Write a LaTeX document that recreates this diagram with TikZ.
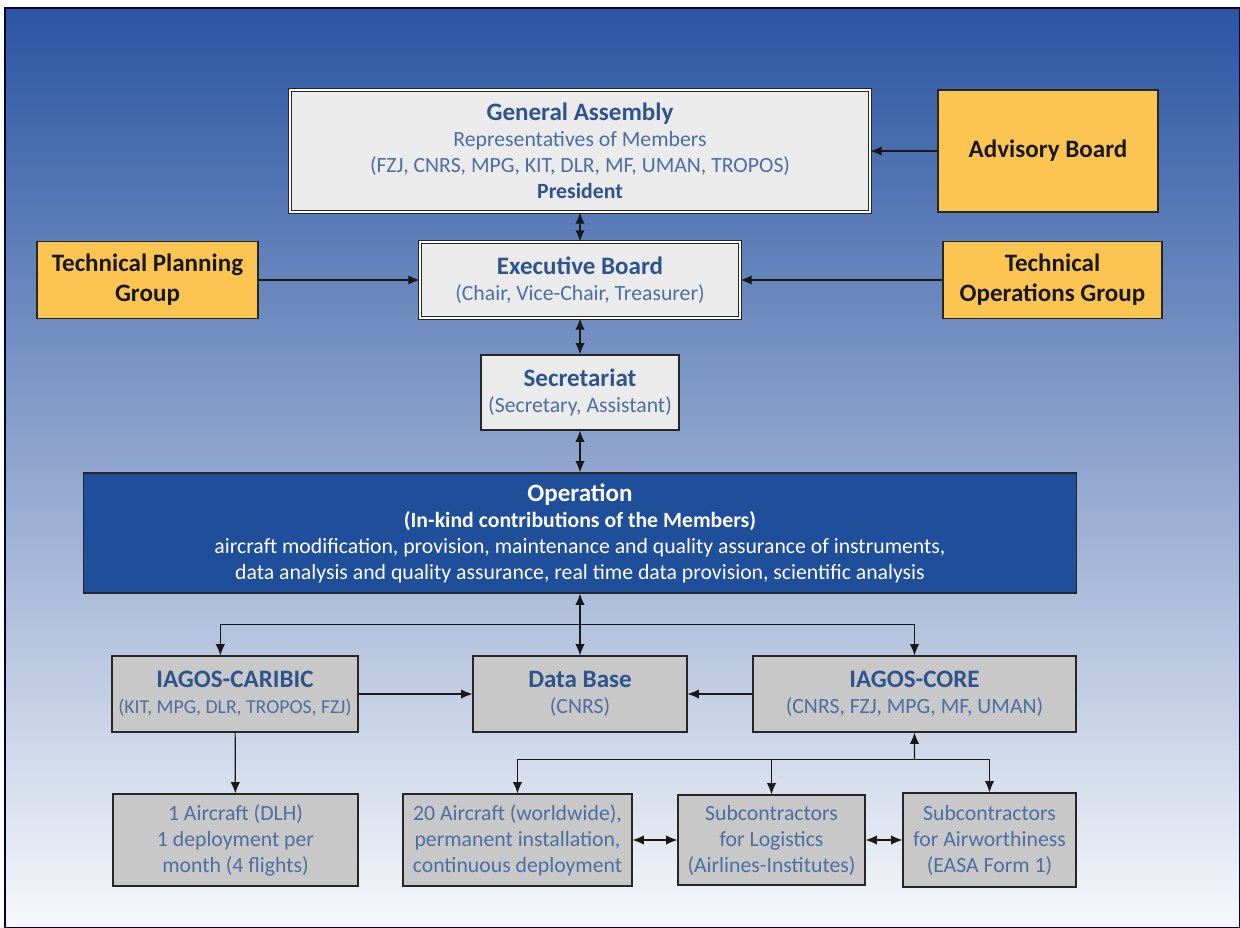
\documentclass[tikz,border=0pt]{standalone}
\usepackage{fontspec}
\setmainfont{Carlito}
\usetikzlibrary{arrows.meta,calc}

\definecolor{bgtop}{HTML}{2A55A2}
\definecolor{bgmid}{HTML}{8DA7D1}
\definecolor{bgbot}{HTML}{F7F8FB}
\definecolor{lightfill}{HTML}{EBEBEB}
\definecolor{orangefill}{HTML}{FCC552}
\definecolor{greyfill}{HTML}{C8C8C8}
\definecolor{opfill}{HTML}{1F4E9B}
\definecolor{titleblue}{HTML}{2E548F}
\definecolor{textblue}{HTML}{4B6EA3}

\newcommand{\pxu}{0.75pt}
\newcommand{\boxtitle}{\fontsize{18.8}{19.5}\selectfont\bfseries}
\newcommand{\boxtext}{\fontsize{16.3}{19.5}\selectfont}

\begin{document}
\begin{tikzpicture}[x=0.75pt,y=-0.75pt,
  >={Latex[length=8.5pt,width=7pt]},
  link/.style={line width=0.9pt,black!90},
  box/.style={draw=black!85,line width=0.8pt,align=center,inner sep=0pt,font=\boxtext},
  lightbox/.style={box,fill=lightfill,double=white,double distance=1.1pt,line width=0.6pt},
  orangebox/.style={box,fill=orangefill,text=black!90,font=\fontsize{18.8}{22.5}\selectfont\bfseries},
  greybox/.style={box,fill=greyfill,text=textblue},
  opbox/.style={box,fill=opfill,text=white}]

  % page and background
  \fill[white] (0,0) rectangle (1240,928);
  \useasboundingbox (0,0) rectangle (1240,928);
  \draw[draw=black!80!blue,line width=1.2pt,top color=bgtop,middle color=bgmid,bottom color=bgbot] (5,8) rectangle (1240,928);

  % governance
  \node[lightbox,minimum width=580*\pxu,minimum height=122*\pxu] (ga) at (580,151)
    {{\boxtitle\color{titleblue}General Assembly}\\ \color{textblue}Representatives of Members\\ \color{textblue}(FZJ, CNRS, MPG, KIT, DLR, MF, UMAN, TROPOS)\\ {\bfseries\color{titleblue}President}};
  \node[orangebox,minimum width=220*\pxu,minimum height=122*\pxu] (adv) at (1048,151) {Advisory Board};
  \node[lightbox,minimum width=320*\pxu,minimum height=76*\pxu] (eb) at (580,280)
    {{\boxtitle\color{titleblue}Executive Board}\\ \color{textblue}(Chair, Vice-Chair, Treasurer)};
  \node[orangebox,minimum width=221*\pxu,minimum height=77*\pxu] (tpg) at (147.5,280) {Technical Planning\\ Group};
  \node[orangebox,minimum width=219*\pxu,minimum height=77*\pxu] (tog) at (1052.5,280) {Technical\\ Operations Group};
  \node[box,fill=lightfill,minimum width=198*\pxu,minimum height=75*\pxu] (sec) at (580,392.5)
    {{\boxtitle\color{titleblue}Secretariat}\\ \color{textblue}(Secretary, Assistant)};

  % operation
  \node[opbox,minimum width=993*\pxu,minimum height=120*\pxu] (op) at (580,533)
    {{\boxtitle Operation}\\ {\bfseries (In-kind contributions of the Members)}\\ aircraft modification, provision, maintenance and quality assurance of instruments,\\ data analysis and quality assurance, real time data provision, scientific analysis};

  % programmes
  \node[greybox,minimum width=246*\pxu,minimum height=76*\pxu] (car) at (235,694)
    {{\boxtitle\color{titleblue}IAGOS-CARIBIC}\\ {\fontsize{14.8}{19.5}\selectfont (KIT, MPG, DLR, TROPOS, FZJ)}};
  \node[greybox,minimum width=214*\pxu,minimum height=76*\pxu] (db) at (580,694)
    {{\boxtitle\color{titleblue}Data Base}\\ (CNRS)};
  \node[greybox,minimum width=323*\pxu,minimum height=76*\pxu] (core) at (914.5,694)
    {{\boxtitle\color{titleblue}IAGOS-CORE}\\ (CNRS, FZJ, MPG, MF, UMAN)};

  % deployment
  \node[greybox,minimum width=245*\pxu,minimum height=92*\pxu] (ac1) at (235.5,840)
    {1 Aircraft (DLH)\\ 1 deployment per\\ month (4 flights)};
  \node[greybox,minimum width=229*\pxu,minimum height=92*\pxu] (ac20) at (517.5,840)
    {20 Aircraft (worldwide),\\ permanent installation,\\ continuous deployment};
  \node[greybox,minimum width=187*\pxu,minimum height=90*\pxu] (log) at (771.5,840)
    {Subcontractors\\ for Logistics\\ (Airlines-Institutes)};
  \node[greybox,minimum width=173*\pxu,minimum height=94*\pxu] (air) at (989.5,840)
    {Subcontractors\\ for Airworthiness\\ (EASA Form 1)};

  % connectors
  \draw[<->,link] (ga) -- (eb);
  \draw[->,link] (adv) -- (ga);
  \draw[->,link] (tpg) -- (eb);
  \draw[->,link] (tog) -- (eb);
  \draw[<->,link] (eb) -- (sec);
  \draw[<->,link] (sec) -- (op);
  \draw[<->,link] (op) -- (db);

  \coordinate (j1) at ($(op.south)!0.5!(db.north)$);
  \draw[->,link] (j1) -| ([xshift=-11pt]car.north);
  \draw[->,link] (j1) -| (core.north);
  \draw[->,link] (car) -- (db);
  \draw[->,link] (core) -- (db);
  \draw[->,link] (car) -- (ac1);

  \coordinate (j2) at ($(core.south)!0.45!(core.south |- air.north)$);
  \draw[->,link] (j2) -- (core.south);
  \draw[->,link] (j2) -| (ac20.north);
  \draw[->,link] (j2) -| (air.north);
  \draw[->,link] (j2 -| log.north) -- (log.north);
  \draw[<->,link] (ac20) -- (log);
  \draw[<->,link] (log) -- (air);
\end{tikzpicture}
\end{document}
